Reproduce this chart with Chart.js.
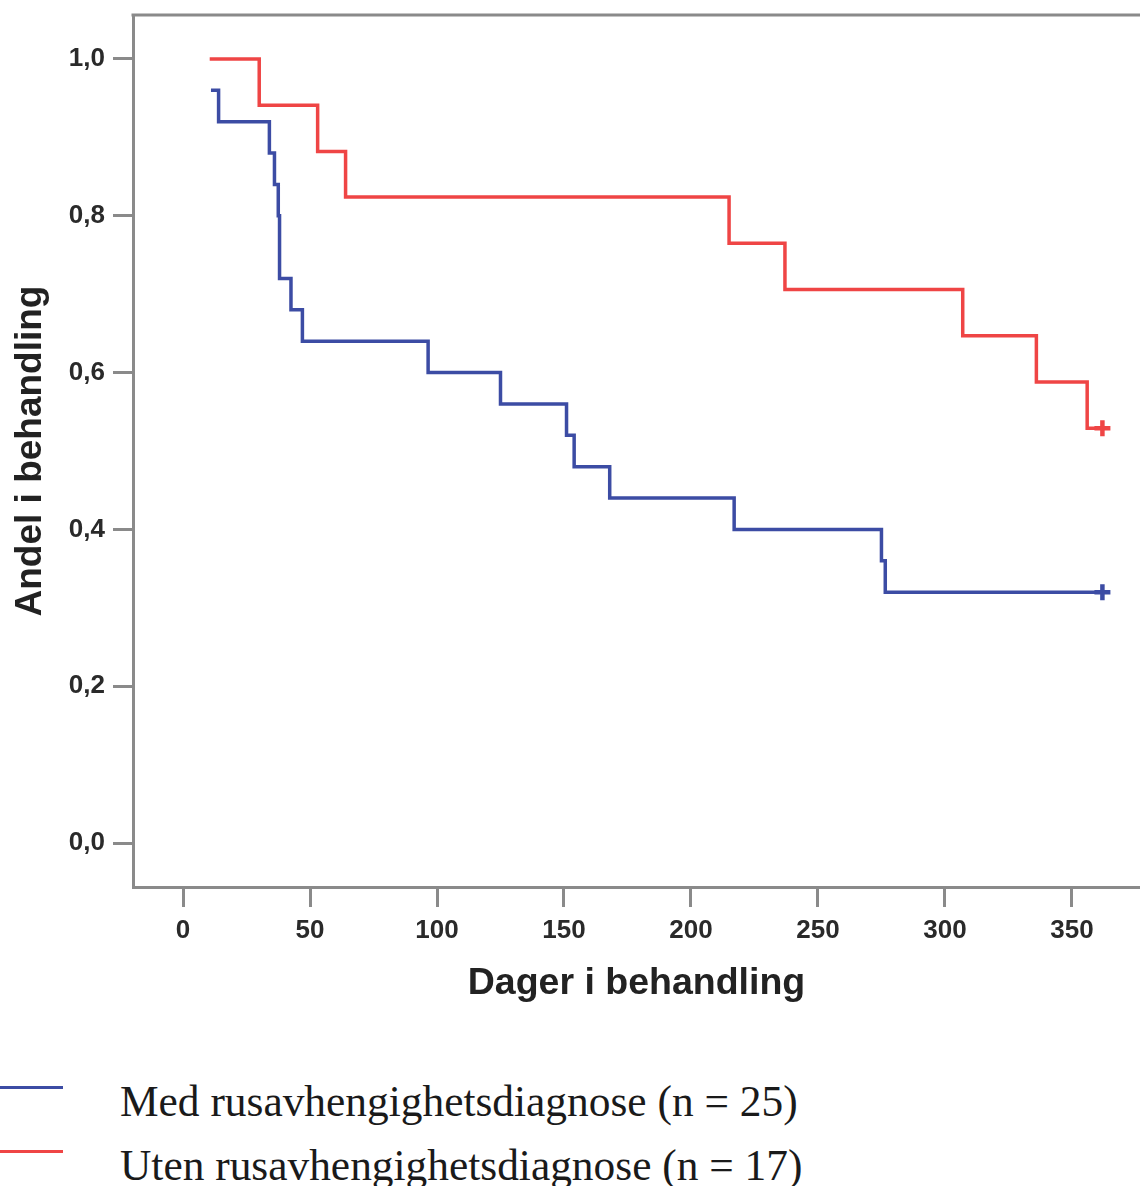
<!DOCTYPE html>
<html>
<head>
<meta charset="utf-8">
<script src="https://cdn.jsdelivr.net/npm/chart.js@4"></script>
<style>
  body { margin: 0; background: #fff; width: 1140px; height: 1186px; position: relative; overflow: hidden; }
  #km { position: absolute; left: 0; top: 0; }
  .lgline { position: absolute; left: 0; width: 63px; height: 3px; }
  .lgtext { position: absolute; left: 120px; font-family: 'Liberation Serif', 'Times New Roman', serif; font-size: 43.4px; line-height: 43px; color: #1a1a1a; white-space: nowrap; }
</style>
</head>
<body>
<canvas id="km" width="1140" height="1010"></canvas>
<div class="lgline" id="lgBlue" style="top:1086px"></div>
<div class="lgtext" id="txtBlue" style="top:1080px"></div>
<div class="lgline" id="lgRed" style="top:1150px"></div>
<div class="lgtext" id="txtRed" style="top:1144px"></div>
<script>
// Kaplan-Meier: andel i behandling over dager
var seriesNames = ['Med rusavhengighetsdiagnose (n = 25)', 'Uten rusavhengighetsdiagnose (n = 17)'];
var seriesColors = ['#3c4ca4', '#ef4545'];

var medDays = [11, 14, 34, 36, 37.5, 38, 42.5, 47, 96.5, 125, 151, 154, 168, 217, 275, 276.5, 362];
var medSurv = [0.96, 0.92, 0.88, 0.84, 0.80, 0.72, 0.68, 0.64, 0.60, 0.56, 0.52, 0.48, 0.44, 0.40, 0.36, 0.32, 0.32];

var utenDays = [10.5, 30, 53, 64, 215, 237, 307, 336, 356, 362];
var utenSurv = [1.0, 0.941, 0.882, 0.824, 0.765, 0.706, 0.647, 0.588, 0.529, 0.529];

// sensurerte observasjoner (+)
var medCensDays = [362];
var medCensSurv = [0.32];
var utenCensDays = [362];
var utenCensSurv = [0.529];

var xTicks = [0, 50, 100, 150, 200, 250, 300, 350];
var yTicks = [0, 0.2, 0.4, 0.6, 0.8, 1.0];
var yTickLabels = ['0,0', '0,2', '0,4', '0,6', '0,8', '1,0'];

function pts(xs, ys) {
    return xs.map(function (x, i) { return { x: x, y: ys[i] }; });
}

document.getElementById('lgBlue').style.background = seriesColors[0];
document.getElementById('lgRed').style.background = seriesColors[1];
document.getElementById('txtBlue').textContent = seriesNames[0];
document.getElementById('txtRed').textContent = seriesNames[1];

var axisGrey = '#8a8a8a';
var tickFont = { family: "'Liberation Sans', Arial, sans-serif", size: 26, weight: 'bold' };
var xTitleFont = { family: "'Liberation Sans', Arial, sans-serif", size: 37.5, weight: 'bold' };
var yTitleFont = { family: "'Liberation Sans', Arial, sans-serif", size: 37, weight: 'bold' };

// top frame line of the plot
var frame = {
    id: 'frame',
    afterDraw: function (chart) {
        var a = chart.chartArea, c = chart.ctx;
        c.save();
        c.strokeStyle = axisGrey;
        c.lineWidth = 3;
        c.beginPath();
        c.moveTo(a.left - 1.5, a.top);
        c.lineTo(a.right, a.top);
        c.stroke();
        c.restore();
    }
};

var ctx = document.getElementById('km').getContext('2d');
var chart = new Chart(ctx, {
    type: 'scatter',
    data: {
        datasets: [{
            label: seriesNames[0],
            data: pts(medDays, medSurv),
            showLine: true,
            stepped: true,
            borderColor: seriesColors[0],
            borderWidth: 3.5,
            pointRadius: 0
        }, {
            label: seriesNames[1],
            data: pts(utenDays, utenSurv),
            showLine: true,
            stepped: true,
            borderColor: seriesColors[1],
            borderWidth: 3.5,
            pointRadius: 0
        }, {
            label: 'sensurert med',
            data: pts(medCensDays, medCensSurv),
            pointStyle: 'cross',
            pointRadius: 8,
            pointBorderWidth: 4.5,
            borderColor: seriesColors[0],
            backgroundColor: seriesColors[0]
        }, {
            label: 'sensurert uten',
            data: pts(utenCensDays, utenCensSurv),
            pointStyle: 'cross',
            pointRadius: 8,
            pointBorderWidth: 4.5,
            borderColor: seriesColors[1],
            backgroundColor: seriesColors[1]
        }]
    },
    options: {
        responsive: false,
        animation: false,
        layout: { autoPadding: false, padding: { top: 15, right: 0, left: 0, bottom: 0 } },
        plugins: {
            legend: { display: false },
            tooltip: { enabled: false }
        },
        scales: {
            x: {
                type: 'linear',
                min: -19.7,
                max: 376.8,
                afterFit: function (s) { s.height = 123; s.paddingLeft = 0; s.paddingRight = 0; },
                afterBuildTicks: function (s) { s.ticks = xTicks.map(function (v) { return { value: v }; }); },
                grid: { drawOnChartArea: false, drawTicks: true, tickLength: 20, tickWidth: 3, tickColor: axisGrey, color: axisGrey },
                border: { color: axisGrey, width: 3 },
                ticks: { font: tickFont, color: '#2a2a2a', padding: 8, maxRotation: 0 },
                title: { display: true, text: 'Dager i behandling', font: xTitleFont, color: '#222', padding: { top: 0, bottom: 4 } }
            },
            y: {
                type: 'linear',
                min: -0.0561,
                max: 1.0561,
                afterFit: function (s) { s.width = 133; s.paddingTop = 0; s.paddingBottom = 0; },
                afterBuildTicks: function (s) { s.ticks = yTicks.map(function (v) { return { value: v }; }); },
                grid: { drawOnChartArea: false, drawTicks: true, tickLength: 20, tickWidth: 3, tickColor: axisGrey, color: axisGrey },
                border: { color: axisGrey, width: 3 },
                ticks: {
                    font: tickFont,
                    color: '#2a2a2a',
                    padding: 8,
                    callback: function (v, i) { return yTickLabels[i]; }
                },
                title: { display: true, text: 'Andel i behandling', font: yTitleFont, color: '#222', padding: { top: 9, bottom: 0 } }
            }
        }
    },
    plugins: [frame]
});
</script>
</body>
</html>
